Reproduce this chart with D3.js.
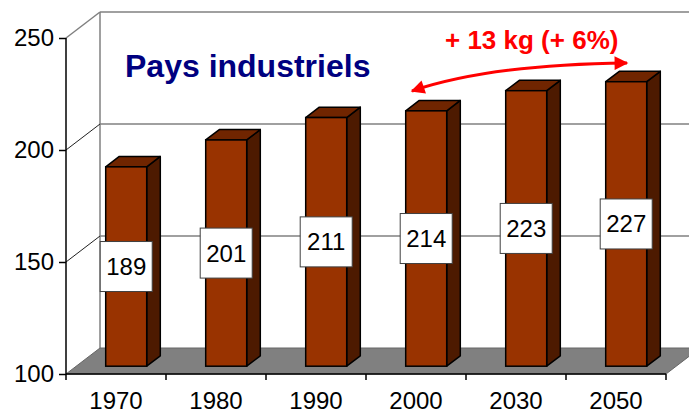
<!DOCTYPE html>
<html>
<head>
<meta charset="utf-8">
<script src="https://cdn.jsdelivr.net/npm/d3@7/dist/d3.min.js"></script>
<style>
  html, body { margin: 0; padding: 0; background: #fff; }
  svg { display: block; }
  text { font-family: "Liberation Sans", Arial, sans-serif; }
</style>
</head>
<body>
<svg id="chart" width="689" height="413"></svg>
<script>
const categories = ["1970", "1980", "1990", "2000", "2030", "2050"];
const values = [189, 201, 211, 214, 223, 227];
const yTicks = [100, 150, 200, 250];
const title = "Pays industriels";
const annotation = "+ 13 kg (+ 6%)";

const W = 689, H = 413;
const svg = d3.select("#chart");

// front plane scales
const x = d3.scaleBand().domain(categories).range([66, 666])
  .paddingInner(0.59).paddingOuter(0.295);
const y = d3.scaleLinear().domain([100, 250]).range([374, 38]);
const DX = 34, DY = 26;          // full depth offset
const F1 = 0.3, F2 = 0.7;        // bar depth slice
const proj = (px, v, f) => [px + DX * f, y(v) - DY * f];
const [x0, x1] = x.range();
const [vMin, vMax] = y.domain();

// back wall
const g = svg.append("g");
g.append("rect").attr("x", x0 + DX).attr("y", y(vMax) - DY)
  .attr("width", W).attr("height", y(vMin) - y(vMax)).attr("fill", "#fff");

// back wall gridlines
g.selectAll(".bgrid").data(yTicks.filter(t => t > vMin)).join("line")
  .attr("x1", x0 + DX).attr("x2", W + 10)
  .attr("y1", d => y(d) - DY).attr("y2", d => y(d) - DY)
  .attr("stroke", "#808080").attr("stroke-width", 1.5);

// left wall back vertical edge
g.append("line").attr("x1", x0 + DX).attr("x2", x0 + DX)
  .attr("y1", y(vMax) - DY).attr("y2", y(vMin) - DY)
  .attr("stroke", "#808080").attr("stroke-width", 1.5);

// left wall gridlines (diagonals)
g.selectAll(".lgrid").data(yTicks.filter(t => t > vMin)).join("line")
  .attr("x1", x0).attr("y1", d => y(d))
  .attr("x2", x0 + DX).attr("y2", d => y(d) - DY)
  .attr("stroke", d => d === vMax ? "#808080" : "#202020")
  .attr("stroke-width", d => d === vMax ? 1.5 : 1);

// floor
const floorPts = [proj(x0, vMin, 0), proj(x1, vMin, 0), proj(x1, vMin, 1), proj(x0, vMin, 1)];
g.append("polygon").attr("points", floorPts.map(p => p.join(",")).join(" "))
  .attr("fill", "#808080").attr("stroke", "#666").attr("stroke-width", 1);

// bars
const bw = x.bandwidth();
const bars = g.selectAll(".bar").data(categories.map((c, i) => ({c, v: values[i]})))
  .join("g").attr("class", "bar");
const pts = a => a.map(p => p.join(",")).join(" ");
bars.append("polygon") // side
  .attr("points", d => {
    const xr = x(d.c) + bw;
    return pts([proj(xr, d.v, F1), proj(xr, d.v, F2), proj(xr, vMin, F2), proj(xr, vMin, F1)]);
  })
  .attr("fill", "#4d1a00").attr("stroke", "#000").attr("stroke-width", 1.5).attr("stroke-linejoin", "round");
bars.append("polygon") // top
  .attr("points", d => {
    const xl = x(d.c), xr = xl + bw;
    return pts([proj(xl, d.v, F1), proj(xr, d.v, F1), proj(xr, d.v, F2), proj(xl, d.v, F2)]);
  })
  .attr("fill", "#702500").attr("stroke", "#000").attr("stroke-width", 1.5).attr("stroke-linejoin", "round");
bars.append("rect") // front
  .attr("x", d => proj(x(d.c), d.v, F1)[0])
  .attr("y", d => proj(x(d.c), d.v, F1)[1])
  .attr("width", bw)
  .attr("height", d => y(vMin) - y(d.v))
  .attr("fill", "#993300").attr("stroke", "#000").attr("stroke-width", 1.5);

// axes
const axG = svg.append("g");
axG.append("line").attr("x1", x0).attr("x2", x0).attr("y1", y(vMax)).attr("y2", y(vMin))
  .attr("stroke", "#000").attr("stroke-width", 1.5);
axG.append("line").attr("x1", x0).attr("x2", x1).attr("y1", y(vMin)).attr("y2", y(vMin))
  .attr("stroke", "#000").attr("stroke-width", 1.5);

const yAxis = svg.append("g").attr("transform", `translate(${x0},0)`)
  .call(d3.axisLeft(y).tickValues(yTicks).tickSize(7).tickPadding(5).tickFormat(d3.format("d")));
yAxis.select(".domain").remove();
yAxis.selectAll(".tick line").attr("stroke", "#000").attr("stroke-width", 1.5);
yAxis.selectAll(".tick text").attr("font-size", 24).attr("fill", "#000")
  .attr("font-family", "Liberation Sans, Arial, sans-serif");

// x ticks at category boundaries
const step = x.step();
const bounds = categories.map(c => x(c) + bw / 2 - step / 2).concat([x(categories[categories.length - 1]) + bw / 2 + step / 2]);
axG.selectAll(".xt").data(bounds).join("line")
  .attr("x1", d => d).attr("x2", d => d).attr("y1", y(vMin)).attr("y2", y(vMin) + 6)
  .attr("stroke", "#000").attr("stroke-width", 1.5);
axG.selectAll(".xl").data(categories).join("text")
  .attr("x", d => x(d) + bw / 2).attr("y", 409)
  .attr("text-anchor", "middle").attr("font-size", 24).attr("fill", "#000")
  .text(d => d);

// value labels
const lab = svg.selectAll(".vl").data(categories.map((c, i) => ({c, v: values[i]}))).join("g")
  .attr("transform", d => {
    const cx = proj(x(d.c) + bw / 2, d.v, F1)[0];
    const cy = (proj(0, d.v, F1)[1] + proj(0, vMin, F1)[1]) / 2;
    return `translate(${cx},${cy})`;
  });
lab.append("rect").attr("x", -26).attr("y", -25).attr("width", 52).attr("height", 50)
  .attr("fill", "#fff").attr("stroke", "#404040").attr("stroke-width", 1);
lab.append("text").attr("text-anchor", "middle").attr("y", 8.5)
  .attr("font-size", 24).attr("fill", "#000").text(d => d.v);

// title
svg.append("text").attr("x", 125).attr("y", 77).attr("font-size", 32)
  .attr("font-weight", "bold").attr("fill", "#000080").text(title);

// annotation
svg.append("text").attr("x", 445).attr("y", 49).attr("font-size", 26)
  .attr("font-weight", "bold").attr("fill", "#ff0000").text(annotation);

const defs = svg.append("defs");
defs.append("marker").attr("id", "ah").attr("viewBox", "0 0 10 10")
  .attr("refX", 9).attr("refY", 5).attr("markerWidth", 5.5).attr("markerHeight", 4.6)
  .attr("orient", "auto-start-reverse").attr("markerUnits", "strokeWidth")
  .append("path").attr("d", "M0,0 L10,5 L0,10 Z").attr("fill", "#ff0000");
svg.append("path").attr("d", "M412,91 Q490,64.5 627,63")
  .attr("fill", "none").attr("stroke", "#ff0000").attr("stroke-width", 3)
  .attr("marker-start", "url(#ah)").attr("marker-end", "url(#ah)");
</script>
</body>
</html>
